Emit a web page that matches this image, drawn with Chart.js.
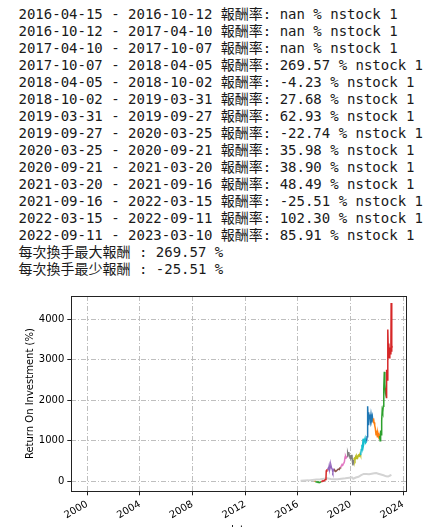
<!DOCTYPE html>
<html>
<head>
<meta charset="utf-8">
<script src="https://cdn.jsdelivr.net/npm/chart.js@4/dist/chart.umd.min.js"></script>
<style>
  html, body { margin: 0; padding: 0; background: #fff; overflow: hidden; width: 438px; height: 527px; }
  #log {
    position: absolute; left: 18.5px; top: 5.6px; margin: 0;
    font-family: "DejaVu Sans Mono", "Noto Sans CJK TC", monospace;
    font-size: 14px; line-height: 17px; color: #1a1a1a;
  }
  #chart { position: absolute; left: 0; top: 280px; }
</style>
</head>
<body>
<pre id="log"></pre>
<canvas id="chart" width="438" height="260"></canvas>
<script>
// holding periods printed above the chart
const periodStart = ['2016-04-15', '2016-10-12', '2017-04-10', '2017-10-07', '2018-04-05', '2018-10-02', '2019-03-31',
  '2019-09-27', '2020-03-25', '2020-09-21', '2021-03-20', '2021-09-16', '2022-03-15', '2022-09-11']
const periodEnd = ['2016-10-12', '2017-04-10', '2017-10-07', '2018-04-05', '2018-10-02', '2019-03-31', '2019-09-27',
  '2020-03-25', '2020-09-21', '2021-03-20', '2021-09-16', '2022-03-15', '2022-09-11', '2023-03-10']
const periodReturn = [NaN, NaN, NaN, 269.57, -4.23, 27.68, 62.93, -22.74, 35.98, 38.90, 48.49, -25.51, 102.30, 85.91]
const periodStocks = [1, 1, 1, 1, 1, 1, 1, 1, 1, 1, 1, 1, 1, 1]

// strategy ROI curve (decimal year, %)
const roiDates = [
  2017.27, 2017.33, 2017.4, 2017.47, 2017.53, 2017.6, 2017.66, 2017.72, 2017.765,
  2017.82, 2017.9, 2017.97, 2018.04, 2018.1, 2018.13, 2018.15, 2018.2, 2018.258,
  2018.3, 2018.34, 2018.38, 2018.42, 2018.46, 2018.5, 2018.55, 2018.6, 2018.65, 2018.7, 2018.752,
  2018.8, 2018.87, 2018.94, 2019.0, 2019.07, 2019.14, 2019.2, 2019.246,
  2019.3, 2019.36, 2019.42, 2019.48, 2019.53, 2019.58, 2019.62, 2019.67, 2019.74,
  2019.78, 2019.82, 2019.86, 2019.9, 2019.95, 2020.0, 2020.05, 2020.1, 2020.14, 2020.18, 2020.23,
  2020.28, 2020.33, 2020.38, 2020.43, 2020.48, 2020.54, 2020.6, 2020.66, 2020.72,
  2020.76, 2020.81, 2020.86, 2020.9, 2020.95, 2021.0, 2021.05, 2021.1, 2021.15, 2021.215,
  2021.25, 2021.28, 2021.31, 2021.34, 2021.37, 2021.41, 2021.45, 2021.5, 2021.55, 2021.6, 2021.65, 2021.708,
  2021.74, 2021.78, 2021.83, 2021.88, 2021.93, 2021.98, 2022.03, 2022.08, 2022.13, 2022.17, 2022.2,
  2022.24, 2022.28, 2022.32, 2022.36, 2022.4, 2022.44, 2022.48, 2022.52, 2022.56, 2022.6, 2022.65, 2022.695,
  2022.72, 2022.75, 2022.78, 2022.81, 2022.84, 2022.87, 2022.9, 2022.94, 2022.98, 2023.02, 2023.06, 2023.08, 2023.11, 2023.14, 2023.17
]
const roiValues = [
  0, -10, -20, -15, -30, -25, -35, -20, -10,
  -5, 10, 5, 25, 40, 60, 250, 280, 290,
  320, 290, 380, 300, 350, 400, 330, 300, 230, 280, 250,
  270, 240, 260, 280, 300, 290, 330, 340,
  380, 420, 410, 440, 480, 600, 620, 580, 610,
  700, 650, 720, 640, 600, 620, 560, 650, 480, 390, 530,
  560, 520, 600, 560, 620, 580, 640, 620, 680,
  640, 780, 900, 830, 1050, 920, 1000, 1060, 950, 980,
  1100, 1450, 1850, 1400, 1700, 1550, 1650, 1500, 1650, 1520, 1600, 1450,
  1550, 1450, 1380, 1300, 1150, 1250, 1100, 1180, 1100, 1150, 1120,
  1000, 1250, 1150, 1500, 1750, 1700, 1850, 2300, 2700, 2400, 2200, 2300,
  2050, 2750, 2500, 2800, 3750, 3100, 3400, 3050, 3300, 3150, 3300, 4400, 3200, 3350, 3300
]

// benchmark curve (light gray)
const benchDates = [2016.2, 2016.5, 2016.8, 2017.1, 2017.4, 2017.7, 2018.0, 2018.2, 2018.5, 2018.8, 2019.0, 2019.3,
  2019.6, 2019.9, 2020.1, 2020.2, 2020.4, 2020.6, 2020.8, 2021.0, 2021.2, 2021.4, 2021.6, 2021.8, 2021.95,
  2022.1, 2022.3, 2022.5, 2022.7, 2022.85, 2023.0, 2023.1]
const benchValues = [10, 15, 20, 30, 40, 45, 60, 70, 55, 45, 50, 60,
  70, 85, 95, 60, 90, 110, 150, 180, 175, 170, 185, 195, 200,
  185, 165, 145, 120, 115, 140, 155]

const xTicks = [2000, 2004, 2008, 2012, 2016, 2020, 2024]
const xTickLabels = ['2000', '2004', '2008', '2012', '2016', '2020', '2024']
const yTicks = [0, 1000, 2000, 3000, 4000]
const yTickLabels = ['0', '1000', '2000', '3000', '4000']

const tab10 = ['#1f77b4', '#ff7f0e', '#2ca02c', '#d62728', '#9467bd', '#8c564b', '#e377c2', '#7f7f7f', '#bcbd22', '#17becf']

const toYear = (s) => {
  const [y, m, d] = s.split('-').map(Number)
  const t0 = Date.UTC(y, 0, 1)
  const t1 = Date.UTC(y + 1, 0, 1)
  return y + (Date.UTC(y, m - 1, d) - t0) / (t1 - t0)
}
const startYears = periodStart.map(toYear)

// text log
const fmt = (v) => isNaN(v) ? 'nan' : v.toFixed(2)
const lines = periodStart.map((s, i) => `${s} - ${periodEnd[i]} 報酬率: ${fmt(periodReturn[i])} % nstock ${periodStocks[i]}`)
const valid = periodReturn.filter(v => !isNaN(v))
lines.push(`每次換手最大報酬 : ${Math.max(...valid).toFixed(2)} %`)
lines.push(`每次換手最少報酬 : ${Math.min(...valid).toFixed(2)} %`)
document.getElementById('log').textContent = lines.join('\n')

const colorAt = (x) => {
  let idx = 0
  for (let i = 0; i < startYears.length; i++) {
    if (x >= startYears[i] - 1e-6) idx = i
  }
  return tab10[idx % 10]
}

const font = { family: "'DejaVu Sans', sans-serif", size: 10 }

const frame = {
  id: 'frame',
  afterDatasetsDraw(chart) {
    const { ctx, chartArea: a } = chart
    ctx.save()
    ctx.strokeStyle = '#222'
    ctx.lineWidth = 1
    ctx.strokeRect(Math.round(a.left) + 0.5, Math.round(a.top) + 0.5, Math.round(a.right - a.left), Math.round(a.bottom - a.top))
    ctx.restore()
  }
}

new Chart(document.getElementById('chart'), {
  type: 'line',
  data: {
    datasets: [
      {
        data: roiDates.map((x, i) => ({ x, y: roiValues[i] })),
        borderColor: tab10[2],
        borderWidth: 1.5,
        pointRadius: 0,
        segment: { borderColor: c => colorAt(c.p0.parsed.x) },
        order: 0
      },
      {
        data: benchDates.map((x, i) => ({ x, y: benchValues[i] })),
        borderColor: '#d3d3d3',
        borderWidth: 2,
        pointRadius: 0,
        order: 1
      }
    ]
  },
  options: {
    responsive: false,
    animation: false,
    layout: { padding: { top: 16, right: 31.7, left: 0, bottom: 0 } },
    plugins: { legend: { display: false }, tooltip: { enabled: false } },
    scales: {
      x: {
        type: 'linear',
        min: 1998.79,
        max: 2024.23,
        afterBuildTicks: s => { s.ticks = xTicks.map(v => ({ value: v })) },
        afterFit: s => { s.height = 48.7 },
        ticks: {
          autoSkip: false, minRotation: 30, maxRotation: 30, padding: 3,
          font, color: '#000',
          callback: (v, i) => xTickLabels[i]
        },
        grid: { color: '#b8b8b8', lineWidth: 0.9, tickColor: '#222', tickLength: 4, tickWidth: 1 },
        border: { display: false, dash: [5, 2, 1, 2] },
        title: { display: true, text: 'date', font, color: '#000', padding: { top: 0, bottom: 4 } }
      },
      y: {
        min: -250,
        max: 4575,
        afterBuildTicks: s => { s.ticks = yTicks.map(v => ({ value: v })) },
        afterFit: s => { s.width = 71.3 },
        ticks: {
          padding: 3, font, color: '#000',
          callback: (v, i) => yTickLabels[i]
        },
        grid: { color: '#b8b8b8', lineWidth: 0.9, tickColor: '#222', tickLength: 4, tickWidth: 1 },
        border: { display: false, dash: [5, 2, 1, 2] },
        title: { display: true, text: 'Return On Investment (%)', font, color: '#000', padding: { top: 24, bottom: 0 } }
      }
    }
  },
  plugins: [frame]
})
</script>
</body>
</html>
